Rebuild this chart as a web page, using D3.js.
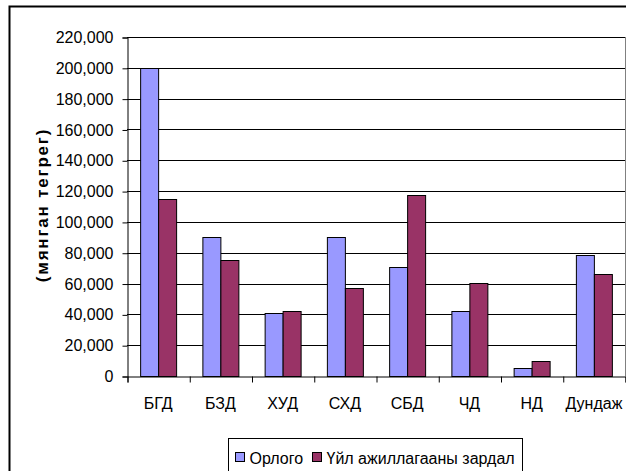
<!DOCTYPE html>
<html>
<head>
<meta charset="UTF-8">
<script src="https://cdn.jsdelivr.net/npm/d3@7"></script>
<style>
  body { margin: 0; background: #fff; }
  text { font-family: "Liberation Sans", Arial, sans-serif; }
</style>
</head>
<body>
<script>
  // chart data
  const categories = ["БГД", "БЗД", "ХУД", "СХД", "СБД", "ЧД", "НД", "Дундаж"];
  const seriesNames = ["Орлого", "Үйл ажиллагааны зардал"];
  const income = [200000, 90000, 41000, 90000, 70500, 42000, 5500, 78500];
  const expense = [115000, 75000, 42000, 57000, 117500, 60500, 10000, 66000];
  const yTicks = [0, 20000, 40000, 60000, 80000, 100000, 120000, 140000, 160000, 180000, 200000, 220000];
  const yTitle = "(мянган тегрег)";
  const colors = ["#9999ff", "#993366"];

  const W = 626, H = 471;
  const plotL = 127, plotR = 625, plotT = 37, plotB = 376;

  const svg = d3.select("body").append("svg")
    .attr("width", W)
    .attr("height", H);

  // outer chart border (runs off the right and bottom)
  svg.append("rect")
    .attr("x", 9.5).attr("y", 6.5)
    .attr("width", 700).attr("height", 600)
    .attr("fill", "none")
    .attr("stroke", "#000")
    .attr("stroke-width", 2);

  const x = d3.scaleBand().domain(categories).range([plotL, plotR]);
  const xs = d3.scaleBand().domain(seriesNames).range([0, x.bandwidth()])
    .paddingInner(0).paddingOuter(0.73);
  const y = d3.scaleLinear().domain([0, 220000]).range([plotB, plotT]);

  // gridlines
  svg.append("g")
    .selectAll("line")
    .data(yTicks.filter(d => d > 0))
    .join("line")
    .attr("x1", plotL).attr("x2", plotR)
    .attr("y1", d => Math.round(y(d)) + 0.5)
    .attr("y2", d => Math.round(y(d)) + 0.5)
    .attr("stroke", "#000");

  // plot area right border
  svg.append("line")
    .attr("x1", plotR + 0.5).attr("x2", plotR + 0.5)
    .attr("y1", plotT).attr("y2", plotB)
    .attr("stroke", "#808080");

  // bars
  const rows = categories.map((c, i) => ({ cat: c, vals: [income[i], expense[i]] }));
  svg.append("g")
    .selectAll("g")
    .data(rows)
    .join("g")
    .attr("transform", d => "translate(" + x(d.cat) + ",0)")
    .selectAll("rect")
    .data(d => d.vals.map((v, j) => ({ name: seriesNames[j], v: v, j: j })))
    .join("rect")
    .attr("x", d => xs(d.name) + 0.5)
    .attr("y", d => Math.round(y(d.v)) + 0.5)
    .attr("width", xs.bandwidth())
    .attr("height", d => Math.round(y(0)) - Math.round(y(d.v)))
    .attr("fill", d => colors[d.j])
    .attr("stroke", "#000")
    .attr("stroke-width", 1);

  // y axis
  const yAxis = svg.append("g")
    .attr("transform", "translate(" + (plotL + 0.5) + ",0.5)")
    .call(d3.axisLeft(y).tickValues(yTicks).tickSize(5).tickPadding(9)
      .tickFormat(d3.format(",")));
  yAxis.selectAll("text").attr("font-size", 16).attr("fill", "#000")
    .style("font-family", "'Liberation Sans', Arial, sans-serif");
  yAxis.select(".domain").attr("stroke", "#000");

  // x axis: boundary ticks
  const xb = d3.scaleLinear().domain([0, categories.length]).range([plotL, plotR]);
  const xAxisTicks = svg.append("g")
    .attr("transform", "translate(0.5," + (plotB + 0.5) + ")")
    .call(d3.axisBottom(xb).tickValues(d3.range(0, categories.length + 1))
      .tickSize(6).tickFormat(""));
  xAxisTicks.select(".domain").attr("stroke", "#000");

  // x axis: labels
  const xAxisLabels = svg.append("g")
    .attr("transform", "translate(0," + plotB + ")")
    .call(d3.axisBottom(x).tickSize(0).tickPadding(22));
  xAxisLabels.select(".domain").remove();
  xAxisLabels.selectAll("text").attr("font-size", 16).attr("fill", "#000")
    .style("font-family", "'Liberation Sans', Arial, sans-serif");

  // y title
  svg.append("text")
    .attr("transform", "translate(48,205) rotate(-90)")
    .attr("text-anchor", "middle")
    .attr("font-size", 17)
    .attr("font-weight", "bold")
    .attr("letter-spacing", 1.8)
    .text(yTitle);

  // legend
  const lg = svg.append("g").attr("transform", "translate(228.5,438.5)");
  lg.append("rect")
    .attr("width", 294).attr("height", 60)
    .attr("fill", "#fff").attr("stroke", "#000");
  const legendX = [7, 84];
  const items = lg.selectAll("g.item")
    .data(seriesNames)
    .join("g")
    .attr("class", "item")
    .attr("transform", (d, i) => "translate(" + legendX[i] + ",0)");
  items.append("rect")
    .attr("x", 0).attr("y", 14)
    .attr("width", 9).attr("height", 9)
    .attr("fill", (d, i) => colors[i])
    .attr("stroke", "#000");
  items.append("text")
    .attr("x", 14).attr("y", 25)
    .attr("font-size", 16)
    .text(d => d);
</script>
</body>
</html>
